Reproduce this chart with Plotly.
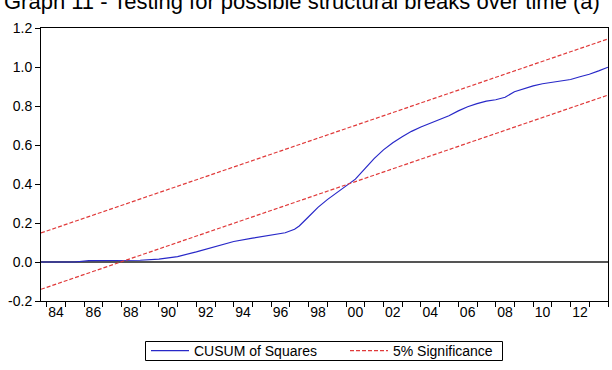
import plotly.graph_objects as go

# ---- data ----
title_text = "Graph 11 - Testing for possible structural breaks over time (a)"

cusum_x = [1983.70, 1985.0, 1985.5, 1986.25, 1987.0, 1988.0, 1989.0, 1990.0, 1991.0,
           1992.0, 1993.0, 1994.0, 1995.0, 1996.0, 1996.75, 1997.25, 1997.5, 1998.0,
           1998.5, 1999.0, 1999.5, 2000.0, 2000.5, 2001.0, 2001.5, 2002.0, 2002.5,
           2003.0, 2003.5, 2004.0, 2004.5, 2005.0, 2005.5, 2006.0, 2006.5, 2007.0,
           2007.5, 2008.0, 2008.5, 2009.0, 2009.5, 2010.0, 2010.5, 2011.0, 2011.5,
           2012.0, 2012.5, 2013.0, 2013.5, 2014.0]
cusum_y = [0.000, 0.000, 0.000, 0.007, 0.008, 0.008, 0.009, 0.015, 0.028,
           0.052, 0.080, 0.105, 0.122, 0.136, 0.150, 0.168, 0.185, 0.232,
           0.280, 0.320, 0.355, 0.386, 0.425, 0.478, 0.530, 0.575, 0.612,
           0.642, 0.670, 0.692, 0.710, 0.728, 0.750, 0.775, 0.796, 0.812,
           0.825, 0.832, 0.845, 0.873, 0.890, 0.903, 0.914, 0.921, 0.926,
           0.936, 0.950, 0.963, 0.980, 0.999]

bound_x = [1983.70, 2014.0]
upper_y = [0.149, 1.144]
lower_y = [-0.140, 0.856]

year_ticks = list(range(1984, 2015))
label_pos = [y + 0.5 for y in range(1984, 2013, 2)]
label_text = ["84", "86", "88", "90", "92", "94", "96", "98", "00", "02",
              "04", "06", "08", "10", "12"]
y_ticks = [-0.2, 0.0, 0.2, 0.4, 0.6, 0.8, 1.0, 1.2]
y_text = ["-0.2", "0.0", "0.2", "0.4", "0.6", "0.8", "1.0", "1.2"]

FONT = "Liberation Sans, Arial, sans-serif"

# plot-area geometry in pixels (for the legend frame)
W, H = 612, 370
ML, MR, MT, MB = 41, 4, 28, 69
PW, PH = W - ML - MR, H - MT - MB


def px_to_paper_x(px):
    return (px - ML) / PW


def px_to_paper_y(py):
    return (H - MB - py) / PH


fig = go.Figure()
fig.add_trace(go.Scatter(x=cusum_x, y=cusum_y, mode="lines", name="CUSUM of Squares",
                         line=dict(color="#2828C8", width=1.2)))
fig.add_trace(go.Scatter(x=bound_x, y=upper_y, mode="lines", name="5% Significance",
                         line=dict(color="#E03A3A", width=1.2, dash="4px,2px")))
fig.add_trace(go.Scatter(x=bound_x, y=lower_y, mode="lines", showlegend=False,
                         line=dict(color="#E03A3A", width=1.2, dash="4px,2px")))

fig.update_layout(
    width=W, height=H,
    margin=dict(l=ML, r=MR, t=MT, b=MB, autoexpand=False),
    paper_bgcolor="white", plot_bgcolor="white",
    font=dict(family=FONT, size=14, color="black"),
    showlegend=True,
    legend=dict(orientation="h", xref="container", x=345 / W, xanchor="center",
                yref="container", y=1 - 351 / H, yanchor="middle",
                borderwidth=0, bgcolor="rgba(0,0,0,0)", font=dict(size=14),
                itemwidth=38, tracegroupgap=0,
                entrywidth=146, entrywidthmode="pixels"),
    shapes=[dict(type="rect", xref="paper", yref="paper",
                 x0=px_to_paper_x(145.5), x1=px_to_paper_x(502.5),
                 y0=px_to_paper_y(341.5), y1=px_to_paper_y(360.5),
                 line=dict(color="black", width=1), fillcolor="rgba(0,0,0,0)")],
    annotations=[dict(text=title_text, xref="paper", yref="paper", x=-0.069, xanchor="left",
                      y=1 + (28 - 2) / PH, yanchor="middle", showarrow=False,
                      font=dict(size=22, family=FONT, color="black"))],
)

fig.update_xaxes(range=[1983.70, 2014.0], tickmode="array", tickvals=label_pos,
                 ticktext=label_text, ticks="", showgrid=False, zeroline=False,
                 showline=True, mirror=True, linecolor="black", linewidth=1,
                 ticklabelstandoff=-2, automargin=False,
                 minor=dict(tickmode="array", tickvals=year_ticks, ticks="outside",
                            ticklen=5, tickcolor="black", tickwidth=1, showgrid=False))
fig.update_yaxes(range=[-0.2, 1.2], tickmode="array", tickvals=y_ticks, ticktext=y_text,
                 ticks="outside", ticklen=5, tickcolor="black", automargin=False,
                 showgrid=False, zeroline=True, zerolinecolor="#555555", zerolinewidth=2,
                 showline=True, mirror=True, linecolor="black", linewidth=1)

fig.write_html("out.html")
